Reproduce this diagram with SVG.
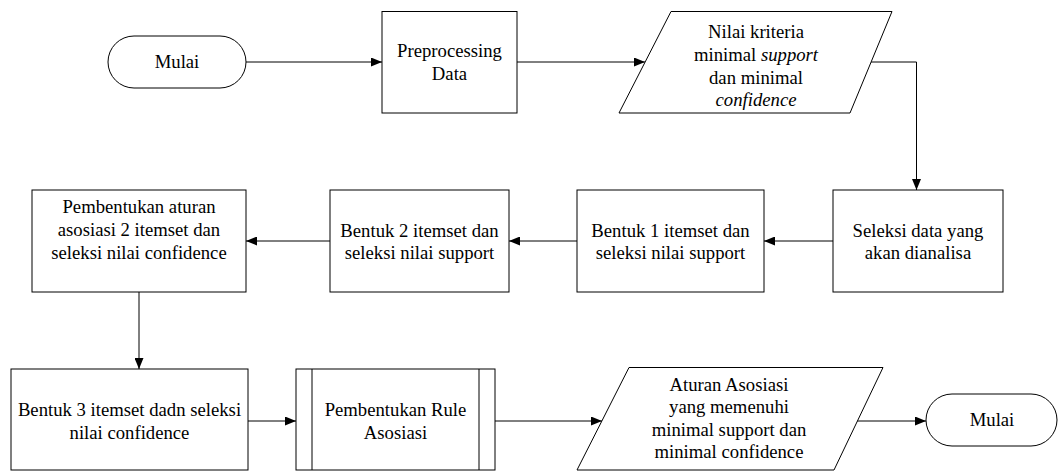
<svg xmlns="http://www.w3.org/2000/svg" width="1059" height="471" viewBox="0 0 1059 471">
  <style>
    .shape { fill: #ffffff; stroke: #000000; stroke-width: 1; }
    .label { font-family: "Liberation Serif", "Times New Roman", serif; font-size: 18.7px; fill: #000000; text-anchor: middle; }
    .it { font-style: italic; }
    .link { fill: none; stroke: #000000; stroke-width: 1; marker-end: url(#arrow); }
  </style>
  <defs>
    <marker id="arrow" markerWidth="11" markerHeight="9" refX="11" refY="4.5" orient="auto" markerUnits="userSpaceOnUse">
      <path d="M0,0 L11,4.5 L0,9 Z" fill="#000000"/>
    </marker>
  </defs>

  <rect width="1059" height="471" fill="#ffffff"/>

  <!-- connectors -->
  <g id="connectors">
    <path class="link" d="M246,62 H382"/>
    <path class="link" d="M517,62 H645"/>
    <path class="link" d="M871,62 H916.5 V190"/>
    <path class="link" d="M833,241 H764"/>
    <path class="link" d="M577,241 H509"/>
    <path class="link" d="M330,241 H246"/>
    <path class="link" d="M139,292 V369"/>
    <path class="link" d="M248,421 H296"/>
    <path class="link" d="M495,421 H602"/>
    <path class="link" d="M857,421 H926"/>
  </g>

  <!-- start terminal -->
  <g id="start">
    <rect class="shape" x="108" y="36" width="138" height="52" rx="26" ry="26"/>
    <text class="label" x="177" y="68">Mulai</text>
  </g>

  <g id="preprocessing">
    <rect class="shape" x="382" y="11.5" width="135" height="101.5"/>
    <text class="label" x="449.5" y="57">Preprocessing</text>
    <text class="label" x="449.5" y="80">Data</text>
  </g>

  <!-- input: minimum support / confidence -->
  <g id="input-criteria">
    <polygon class="shape" points="671,11.5 892,11.5 850,113 619,113"/>
    <text class="label" x="756" y="38">Nilai kriteria</text>
    <text class="label" x="756" y="61">minimal <tspan class="it">support</tspan></text>
    <text class="label" x="756" y="84">dan minimal</text>
    <text class="label it" x="756" y="106">confidence</text>
  </g>

  <g id="select-data">
    <rect class="shape" x="833" y="190" width="170" height="102"/>
    <text class="label" x="918" y="237">Seleksi data yang</text>
    <text class="label" x="918" y="259">akan dianalisa</text>
  </g>

  <g id="itemset-1">
    <rect class="shape" x="577" y="190" width="187" height="102"/>
    <text class="label" x="670.5" y="237">Bentuk 1 itemset dan</text>
    <text class="label" x="670.5" y="259">seleksi nilai support</text>
  </g>

  <g id="itemset-2">
    <rect class="shape" x="330" y="190" width="179" height="102"/>
    <text class="label" x="419.5" y="237">Bentuk 2 itemset dan</text>
    <text class="label" x="419.5" y="259">seleksi nilai support</text>
  </g>

  <g id="rules-2">
    <rect class="shape" x="32" y="190" width="214" height="102"/>
    <text class="label" x="139" y="213">Pembentukan aturan</text>
    <text class="label" x="139" y="236">asosiasi 2 itemset dan</text>
    <text class="label" x="139" y="259">seleksi nilai confidence</text>
  </g>

  <g id="itemset-3">
    <rect class="shape" x="11" y="369" width="237" height="101"/>
    <text class="label" x="129.5" y="416">Bentuk 3 itemset dadn seleksi</text>
    <text class="label" x="129.5" y="439">nilai confidence</text>
  </g>

  <!-- predefined process -->
  <g id="build-rules">
    <rect class="shape" x="296" y="369" width="199" height="101"/>
    <line class="shape" x1="312" y1="369" x2="312" y2="470"/>
    <line class="shape" x1="479" y1="369" x2="479" y2="470"/>
    <text class="label" x="395.5" y="416">Pembentukan Rule</text>
    <text class="label" x="395.5" y="439">Asosiasi</text>
  </g>

  <!-- output: association rules -->
  <g id="output-rules">
    <polygon class="shape" points="629,367.5 883,367.5 834,470 577,470"/>
    <text class="label" x="729" y="391">Aturan Asosiasi</text>
    <text class="label" x="729" y="413">yang memenuhi</text>
    <text class="label" x="729" y="436">minimal support dan</text>
    <text class="label" x="729" y="458">minimal confidence</text>
  </g>

  <!-- end terminal -->
  <g id="end">
    <rect class="shape" x="926" y="394" width="131" height="52" rx="26" ry="26"/>
    <text class="label" x="992" y="426">Mulai</text>
  </g>
</svg>
